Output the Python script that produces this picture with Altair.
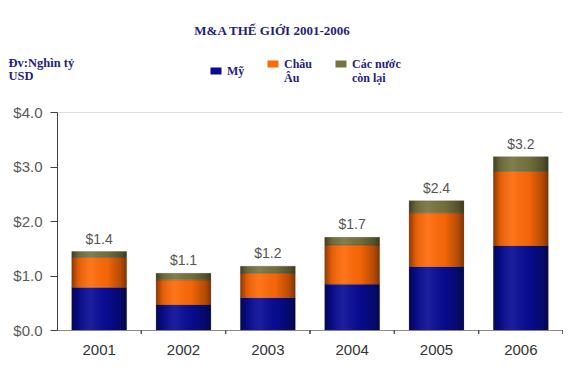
import altair as alt
import pandas as pd

years = ["2001", "2002", "2003", "2004", "2005", "2006"]
series = ["Mỹ", "Châu Âu", "Các nước còn lại"]
my = [0.78, 0.46, 0.59, 0.84, 1.16, 1.54]
chau_au = [0.55, 0.46, 0.45, 0.72, 0.99, 1.37]
con_lai = [0.11, 0.12, 0.13, 0.14, 0.22, 0.27]
totals = [1.4, 1.1, 1.2, 1.7, 2.4, 3.2]
colors = ["#080c96", "#ff6a08", "#77743f"]

rows = []
for i, y in enumerate(years):
    for k, (s, vals) in enumerate(zip(series, [my, chau_au, con_lai])):
        rows.append({"year": y, "series": s, "ord": k, "value": vals[i], "total": totals[i]})
df = pd.DataFrame(rows)

NAVY = "#1f1f7a"
SERIF = "Liberation Serif"
SANS = "Liberation Sans"

x_enc = alt.X("year:N", title=None,
              scale=alt.Scale(paddingInner=0.35, paddingOuter=0.175),
              axis=alt.Axis(labelAngle=0, ticks=False, labelPadding=12,
                            labelFont=SANS, labelFontSize=15, labelColor="#333333",
                            domainColor="#8c8c8c", domainWidth=1))

y_scale = alt.Scale(domain=[0, 4], nice=False)

base = alt.Chart(df)

bars = base.mark_bar(stroke="#303030", strokeWidth=0.4, strokeOpacity=0.5).encode(
    x=x_enc,
    y=alt.Y("sum(value):Q", scale=y_scale,
            title=["Đv:Nghìn tỷ", "USD"],
            axis=alt.Axis(values=[0, 1, 2, 3, 4], format="$.1f", grid=False,
                          labelFont=SANS, labelFontSize=15, labelColor="#595959",
                          tickSize=7, tickColor="#404040", labelPadding=8,
                          domainColor="#404040",
                          titleAngle=0, titleAlign="left", titleBaseline="alphabetic",
                          titleX=-49, titleY=-46, titleFont=SERIF, titleFontSize=12.5,
                          titleFontWeight="bold", titleColor=NAVY, titleLineHeight=13)),
    color=alt.Color("series:N",
                    scale=alt.Scale(domain=series, range=colors),
                    sort=series,
                    legend=alt.Legend(
                        title=None, orient="none", direction="horizontal",
                        legendX=153, legendY=-54,
                        symbolType="M-1,-0.64H1V0.64H-1Z", symbolSize=121,
                        symbolStrokeWidth=0, labelFont=SERIF, labelFontSize=12,
                        labelFontWeight="bold", labelColor=NAVY, labelOffset=5,
                        columnPadding=22,
                        labelExpr="datum.label == 'Châu Âu' ? ['Châu', 'Âu'] : "
                                  "(datum.label == 'Các nước còn lại' ? ['Các nước', 'còn lại'] : datum.label)")),
    order=alt.Order("ord:Q", sort="ascending"),
)

shade = alt.LinearGradient(
    gradient="linear", x1=0, x2=1, y1=0, y2=0,
    stops=[
        alt.GradientStop(offset=0, color="rgba(0,0,0,0.45)"),
        alt.GradientStop(offset=0.12, color="rgba(0,0,0,0.12)"),
        alt.GradientStop(offset=0.35, color="rgba(255,255,255,0.08)"),
        alt.GradientStop(offset=0.65, color="rgba(0,0,0,0.05)"),
        alt.GradientStop(offset=0.9, color="rgba(0,0,0,0.3)"),
        alt.GradientStop(offset=1, color="rgba(0,0,0,0.5)"),
    ],
)

overlay = base.mark_bar(color=shade).encode(
    x=alt.X("year:N"),
    y=alt.Y("sum(value):Q", scale=y_scale),
)

ticks = base.mark_rule(color="#555555", strokeWidth=1, xOffset=14.75).encode(
    x=alt.X("year:N", bandPosition=1),
    y=alt.value(218),
    y2=alt.value(222),
)

labels = base.mark_text(baseline="bottom", dy=-5, font=SANS, fontSize=14, color="#555555").encode(
    x=alt.X("year:N"),
    y=alt.Y("sum(value):Q", scale=y_scale),
    text=alt.Text("max(total):Q", format="$.1f"),
)

chart = alt.layer(bars, overlay, ticks, labels).properties(
    width=506,
    height=218,
    autosize=alt.AutoSizeParams(type="none"),
    padding={"left": 49, "top": 104, "right": 0, "bottom": 30},
    title=alt.TitleParams(text="M&A THẾ GIỚI 2001-2006", font=SERIF, fontSize=13,
                          fontWeight="bold", color=NAVY, anchor="middle",
                          frame="group", dx=-38, offset=18),
).configure_view(stroke=None).configure(background="white")

chart.save("out.html", embed_options={"renderer": "svg", "actions": False})
